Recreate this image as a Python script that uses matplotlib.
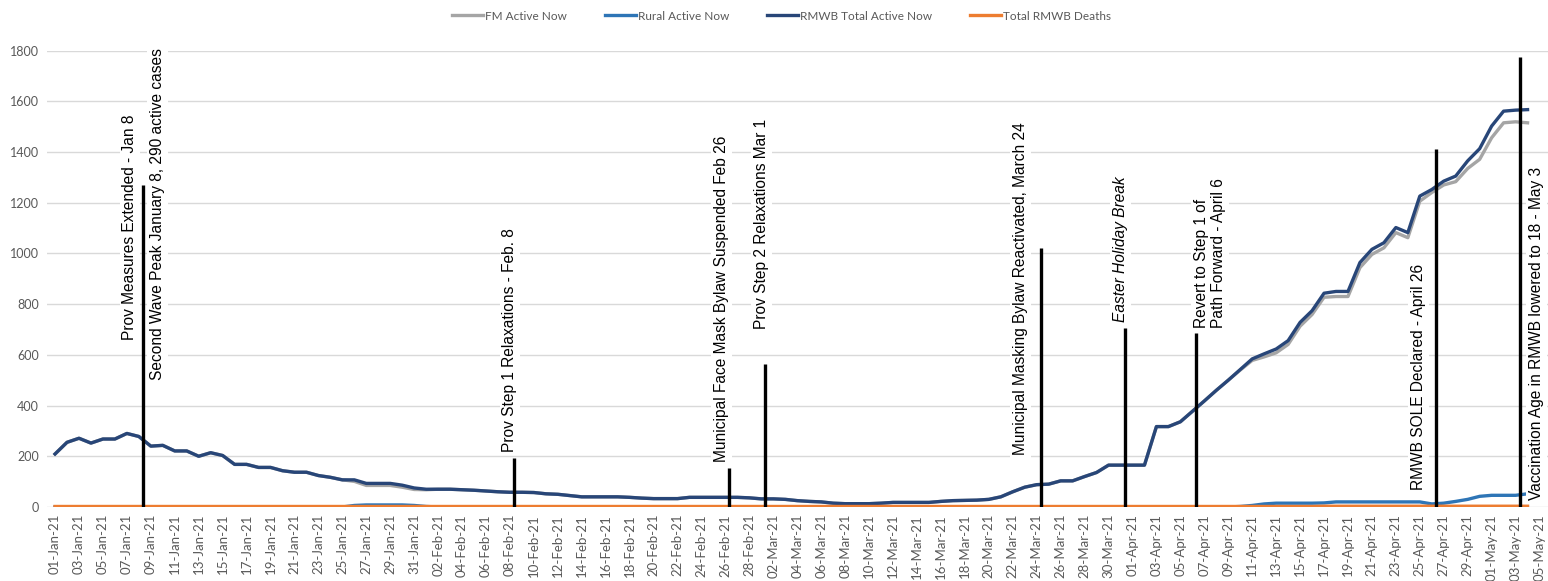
import pandas as pd
import numpy as np
import matplotlib
matplotlib.use("Agg")
import matplotlib.pyplot as plt
import matplotlib.dates as mdates

# daily values, 01-Jan-21 to 04-May-21
total_jan = [209, 255, 271, 252, 268, 268, 290, 278, 240, 243, 221, 221, 200, 214, 203, 168,
             168, 156, 156, 143, 137, 137, 124, 117, 107, 107, 93, 93, 93, 86, 75]
total_feb = [70, 70, 70, 68, 66, 63, 60, 58, 58, 57, 52, 50, 45, 40, 40, 40, 40, 38, 35, 33,
             33, 33, 38, 38, 38, 38, 38, 36]
total_mar = [32, 32, 30, 25, 22, 20, 15, 13, 13, 13, 15, 18, 18, 18, 18, 22, 25, 26, 27, 30,
             40, 60, 78, 88, 90, 103, 103, 120, 136, 165, 165]
total_apr = [165, 165, 317, 317, 336, 377, 418, 460, 500, 542, 584, 604, 623, 656, 728, 774,
             843, 850, 850, 964, 1016, 1042, 1102, 1082, 1226, 1252, 1285, 1305, 1365, 1413]
total_may = [1502, 1561, 1565, 1567]

rural_jan = [0, 0, 0, 0, 0, 0, 0, 0, 0, 0, 0, 0, 0, 0, 0, 0, 0, 0, 0, 0, 0, 0, 0, 0, 0,
             6, 8, 8, 8, 8, 6]
rural_feb = [2, 0, 0, 0, 0, 0, 0, 0, 0, 0, 0, 0, 0, 0, 0, 0, 0, 0, 0, 0, 0, 0, 0, 0, 0, 0, 0, 0]
rural_mar = [0, 0, 0, 0, 0, 0, 0, 0, 0, 0, 0, 0, 0, 0, 0, 0, 0, 0, 0, 0, 0, 0, 0, 0, 0, 0,
             0, 0, 0, 0, 0]
rural_apr = [0, 0, 0, 0, 0, 0, 0, 0, 0, 2, 6, 12, 15, 15, 15, 15, 16, 20, 20, 20, 20, 20, 20,
             20, 20, 12, 15, 22, 30, 42]
rural_may = [46, 46, 46, 52]

fm_jan = [209, 255, 271, 252, 268, 268, 290, 278, 240, 243, 221, 221, 200, 214, 203, 168,
          168, 156, 156, 143, 137, 137, 124, 117, 107, 101, 85, 85, 85, 78, 69]
fm_feb = [68, 70, 70, 68, 66, 63, 60, 58, 58, 57, 52, 50, 45, 40, 40, 40, 40, 38, 35, 33,
          33, 33, 38, 38, 38, 38, 38, 36]
fm_mar = [32, 32, 30, 25, 22, 20, 15, 13, 13, 13, 15, 18, 18, 18, 18, 22, 25, 26, 27, 30,
          40, 60, 78, 88, 90, 103, 103, 120, 136, 165, 165]
fm_apr = [165, 165, 317, 317, 336, 377, 418, 460, 500, 540, 578, 592, 608, 641, 713, 759,
          827, 830, 830, 944, 996, 1022, 1082, 1062, 1206, 1240, 1270, 1283, 1335, 1371]
fm_may = [1456, 1515, 1519, 1515]

deaths_jan = [2, 2, 2, 2, 2, 2, 2, 2, 2, 2, 2, 2, 2, 2, 2, 2, 2, 2, 2, 2, 2, 2, 2, 2, 2, 2,
              2, 2, 2, 2, 2]
deaths_feb = [2, 2, 2, 2, 2, 2, 2, 2, 2, 2, 2, 2, 2, 2, 2, 2, 2, 2, 2, 2, 2, 2, 2, 2, 2, 2,
              2, 2]
deaths_mar = [2, 2, 2, 2, 2, 2, 2, 2, 2, 2, 2, 2, 2, 2, 2, 2, 2, 2, 2, 2, 2, 2, 2, 2, 2, 2,
              2, 2, 2, 2, 2]
deaths_apr = [2, 2, 2, 2, 2, 2, 2, 2, 2, 2, 2, 2, 2, 2, 2, 2, 3, 3, 3, 3, 3, 3, 3, 3, 3, 3,
              3, 3, 3, 3]
deaths_may = [3, 3, 3, 3]

total = total_jan + total_feb + total_mar + total_apr + total_may
rural = rural_jan + rural_feb + rural_mar + rural_apr + rural_may
fm = fm_jan + fm_feb + fm_mar + fm_apr + fm_may
deaths = deaths_jan + deaths_feb + deaths_mar + deaths_apr + deaths_may
dates = pd.date_range("2021-01-01", periods=len(total), freq="D")
tick_dates = pd.date_range("2021-01-01", "2021-05-05", freq="2D")

# events: date, top of marker line, bottom of marker line
event_dates = ["2021-01-08", "2021-02-08", "2021-02-26", "2021-03-01", "2021-03-24",
               "2021-03-31", "2021-04-06", "2021-04-26", "2021-05-03"]
event_tops = [1270, 195, 155, 565, 1023, 707, 686, 1412, 1776]
event_bottoms = [-18, 0, 0, -12, 0, 0, -18, 0, 0]

# annotation texts: label, date anchor, value where the text starts, italic
notes = [
    ("Prov Measures Extended - Jan 8", "2021-01-07 06:00", 658, False),
    ("Second Wave Peak January 8, 290 active cases", "2021-01-09 14:00", 500, False),
    ("Prov Step 1 Relaxations - Feb. 8", "2021-02-08", 215, False),
    ("Municipal Face Mask Bylaw Suspended Feb 26", "2021-02-25 16:00", 178, False),
    ("Prov Step 2 Relaxations Mar 1", "2021-03-01", 700, False),
    ("Municipal Masking Bylaw Reactivated, March 24", "2021-03-22 16:00", 205, False),
    ("Easter Holiday Break", "2021-03-31", 730, True),
    ("Revert to Step 1 of\nPath Forward - April 6", "2021-04-07 11:00", 705, False),
    ("RMWB SOLE Declared - April 26", "2021-04-24 21:00", 65, False),
    ("Vaccination Age in RMWB lowered to 18 - May 3", "2021-05-04 18:00", 27, False),
]

grey_text = "#595959"

fig = plt.figure(figsize=(15.48, 5.81), dpi=100)
ax = fig.add_axes([0.0304, 0.1274, 0.9696, 0.7856])

ax.plot(dates, fm, color="#A5A5A5", lw=2.4, label="FM Active Now", zorder=3)
ax.plot(dates, rural, color="#2E75B6", lw=2.4, label="Rural Active Now", zorder=3)
ax.plot(dates, total, color="#284678", lw=2.4, label="RMWB Total Active Now", zorder=4)
ax.plot(dates, deaths, color="#ED7D31", lw=2.4, label="Total RMWB Deaths", zorder=5)

for d, top, bot in zip(event_dates, event_tops, event_bottoms):
    ax.vlines(pd.Timestamp(d) + pd.Timedelta(hours=8), bot, top, color="black", lw=2.4, zorder=8)

for label, d, y0, italic in notes:
    ax.text(pd.Timestamp(d), y0, label, rotation=90, ha="center", va="bottom",
            multialignment="left", fontsize=11.2, family="Liberation Sans",
            style="italic" if italic else "normal", color="black", zorder=7,
            bbox=dict(facecolor="white", edgecolor="none", pad=2))

ax.set_ylim(0, 1800)
ax.set_yticks(np.arange(0, 1801, 200))
ax.set_xlim(pd.Timestamp("2021-01-01") - pd.Timedelta(hours=16),
            pd.Timestamp("2021-05-05") + pd.Timedelta(hours=17))
ax.set_xticks(tick_dates)
ax.xaxis.set_major_formatter(mdates.DateFormatter("%d-%b-%y"))

ax.grid(axis="y", color="#D9D9D9", lw=1)
ax.set_axisbelow(True)
for s in ax.spines.values():
    s.set_visible(False)
ax.tick_params(axis="both", length=0, colors=grey_text)
ax.tick_params(axis="x", rotation=90, pad=5, labelsize=9.5)
ax.tick_params(axis="y", pad=6, labelsize=9)
for t in ax.get_xticklabels() + ax.get_yticklabels():
    t.set_family("Lato")

leg = fig.legend(loc="upper center", bbox_to_anchor=(0.505, 1.0), ncol=4, frameon=False,
                 handlelength=2.6, columnspacing=3.2, handletextpad=0.2,
                 prop={"family": "Lato", "size": 8.5})
for t in leg.get_texts():
    t.set_color(grey_text)

fig.savefig("out.png", dpi=100)
